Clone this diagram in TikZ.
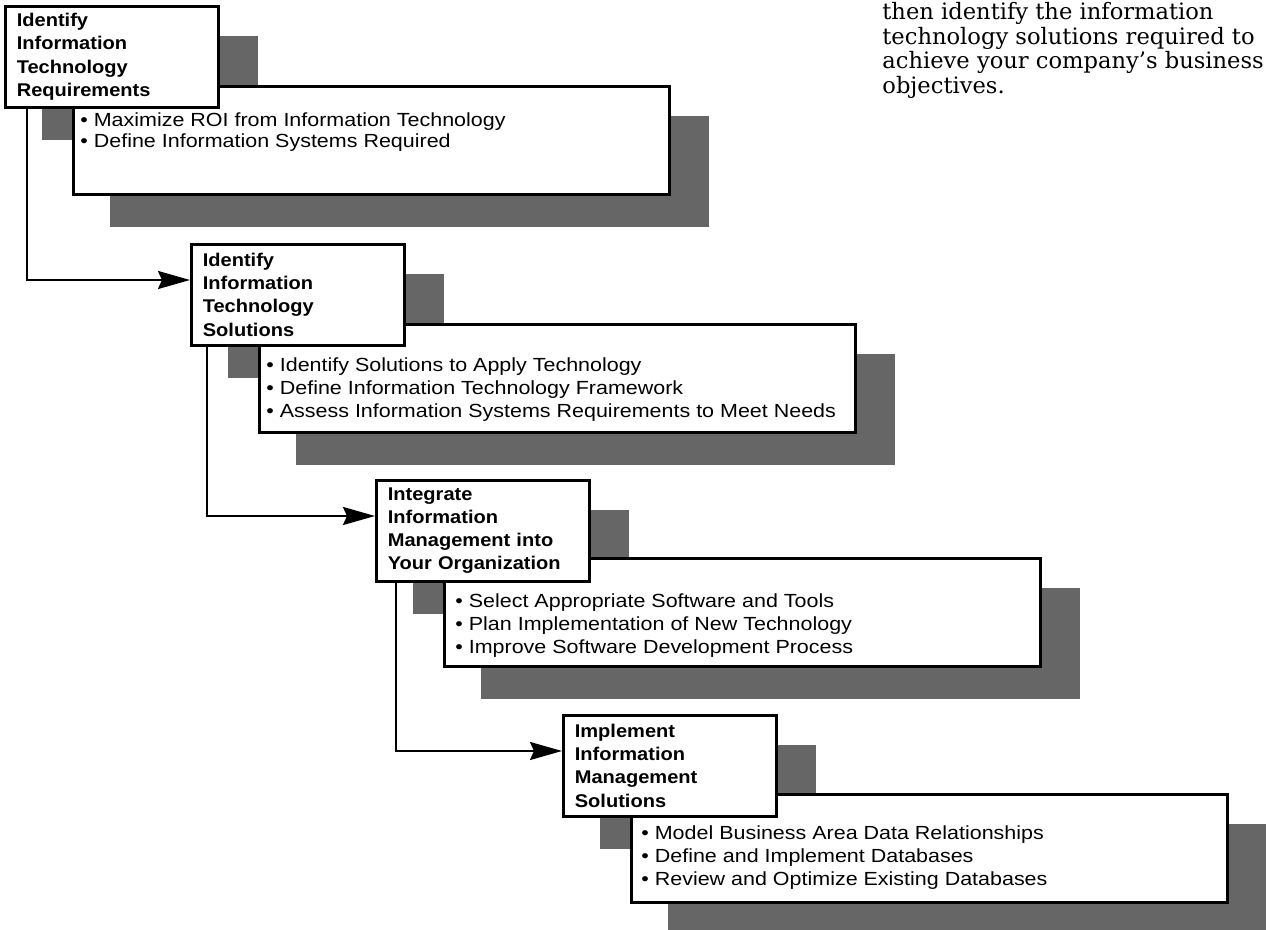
\documentclass[tikz,border=0pt]{standalone}
\usepackage{fontspec}
\setmainfont{DejaVu Serif}
\setsansfont{Liberation Sans}
\newfontfamily\listfont[FakeStretch=1.13]{Liberation Sans}
\newfontfamily\headfont[FakeStretch=1.09]{Liberation Sans Bold}
\usetikzlibrary{arrows.meta,backgrounds}

\begin{document}
\begin{tikzpicture}[x=0.5pt,y=-0.5pt,
	titlebox/.style={draw,line width=1.3pt,fill=white,anchor=north west,minimum width=106.5pt,minimum height=50.5pt,text width=95pt,inner xsep=5.5pt,align=left,font=\headfont\fontsize{9.2}{11.6}\selectfont},
	listbox/.style={draw,line width=1.3pt,fill=white,anchor=north west,minimum width=298pt,minimum height=54pt},
	listtext/.style={anchor=north west,align=left,inner sep=0pt,font=\listfont\fontsize{9.5}{11.5}\selectfont},
	shadowfill/.style={fill=black!60},
	flow/.style={line width=1pt,-{Stealth[length=16pt,width=9pt,inset=2pt]}}]
				\useasboundingbox (0,0) rectangle (1266,930);
				
				% detail boxes first, the title boxes lie on top of them
				\path (72,85) node[listbox] (d1) {};
				\path (258,323) node[listbox] (d2) {};
				\path (443,557) node[listbox] (d3) {};
				\path (630,793) node[listbox] (d4) {};
				
				\path (4,5) node[titlebox] (t1) {Identify\\Information\\Technology\\Requirements};
				\path (190,243) node[titlebox] (t2) {Identify\\Information\\Technology\\Solutions};
				\path (375,479) node[titlebox] (t3) {Integrate\\Information\\Management into\\Your Organization};
				\path (562,714) node[titlebox] (t4) {Implement\\Information\\Management\\Solutions};
				
				\path (80,112) node[listtext,font=\listfont\fontsize{9.5}{10.5}\selectfont] (l1) {\textbullet{} Maximize ROI from Information Technology\\\textbullet{} Define Information Systems Required};
				\path (266,357) node[listtext] (l2) {\textbullet{} Identify Solutions to Apply Technology\\\textbullet{} Define Information Technology Framework\\\textbullet{} Assess Information Systems Requirements to Meet Needs};
				\path (455,593) node[listtext] (l3) {\textbullet{} Select Appropriate Software and Tools\\\textbullet{} Plan Implementation of New Technology\\\textbullet{} Improve Software Development Process};
				\path (641,825) node[listtext] (l4) {\textbullet{} Model Business Area Data Relationships\\\textbullet{} Define and Implement Databases\\\textbullet{} Review and Optimize Existing Databases};
				
				% shadows
				\begin{scope}[on background layer]
				\fill[shadowfill] ([xshift=19pt,yshift=-15.5pt]t1.north west) rectangle ([xshift=19pt,yshift=-15.5pt]t1.south east);
				\fill[shadowfill] ([xshift=19pt,yshift=-15.5pt]d1.north west) rectangle ([xshift=19pt,yshift=-15.5pt]d1.south east);
				\fill[shadowfill] ([xshift=19pt,yshift=-15.5pt]t2.north west) rectangle ([xshift=19pt,yshift=-15.5pt]t2.south east);
				\fill[shadowfill] ([xshift=19pt,yshift=-15.5pt]d2.north west) rectangle ([xshift=19pt,yshift=-15.5pt]d2.south east);
				\fill[shadowfill] ([xshift=19pt,yshift=-15.5pt]t3.north west) rectangle ([xshift=19pt,yshift=-15.5pt]t3.south east);
				\fill[shadowfill] ([xshift=19pt,yshift=-15.5pt]d3.north west) rectangle ([xshift=19pt,yshift=-15.5pt]d3.south east);
				\fill[shadowfill] ([xshift=19pt,yshift=-15.5pt]t4.north west) rectangle ([xshift=19pt,yshift=-15.5pt]t4.south east);
				\fill[shadowfill] ([xshift=19pt,yshift=-15.5pt]d4.north west) rectangle ([xshift=19pt,yshift=-15.5pt]d4.south east);
				\end{scope}
				
				% connectors
				\draw[flow] ([xshift=11.5pt]t1.south west) |- ([yshift=-18.5pt]t2.north west);
				\draw[flow] ([xshift=8.5pt]t2.south west) |- ([yshift=-18.5pt]t3.north west);
				\draw[flow] ([xshift=10.5pt]t3.south west) |- ([yshift=-18.5pt]t4.north west);
				
				\path (882,2) node[anchor=north west,align=left,inner sep=0pt,font=\fontsize{11.3}{12.3}\selectfont] (note) {then identify the information\\technology solutions required to\\achieve your company's business\\objectives.};
\end{tikzpicture}
\end{document}
